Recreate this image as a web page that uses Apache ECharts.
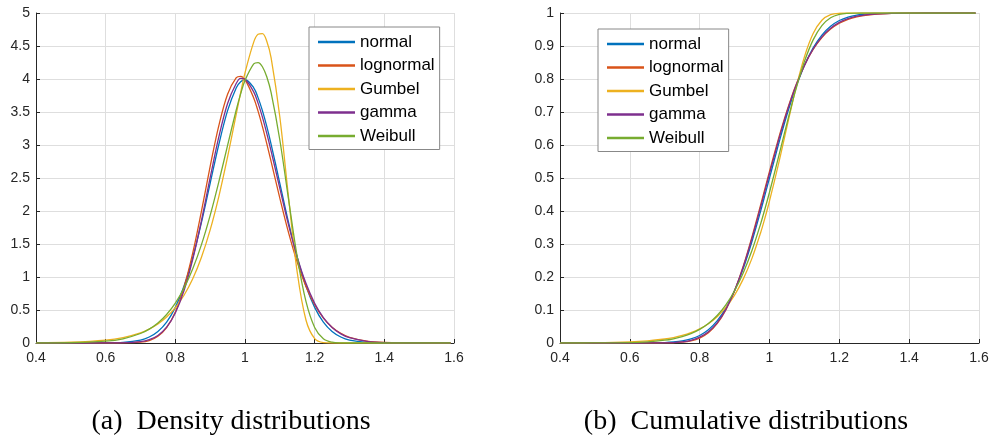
<!DOCTYPE html>
<html>
<head>
<meta charset="utf-8">
<title>Density and cumulative distributions</title>
<script src="https://cdn.jsdelivr.net/npm/echarts@6/dist/echarts.min.js"></script>
<style>
  html, body { margin: 0; padding: 0; background: #fff; }
  #chart { width: 998px; height: 444px; }
</style>
</head>
<body>
<div id="chart"></div>
<script>
const xs = [0.4, 0.5, 0.6, 0.65, 0.7, 0.725, 0.75, 0.775, 0.8, 0.825, 0.85, 0.875, 0.9, 0.925, 0.95, 0.975, 0.9875, 1.0,
  1.025, 1.0375, 1.05, 1.0625, 1.075, 1.1, 1.125, 1.15, 1.175, 1.2, 1.225, 1.25, 1.275, 1.3, 1.35, 1.4, 1.5, 1.59]

const seriesNames = ['normal', 'lognormal', 'Gumbel', 'gamma', 'Weibull']
const colors = ['#0072BD', '#D95319', '#EDB120', '#7E2F8E', '#77AC30']

// (a) density
const normalPdf = [0, 0, 0.0013, 0.0087, 0.044, 0.091, 0.175, 0.317, 0.540, 0.863, 1.295, 1.827, 2.420, 3.011, 3.521, 3.867, 3.958, 3.989,
  3.867, 3.718, 3.521, 3.282, 3.011, 2.420, 1.827, 1.295, 0.863, 0.540, 0.317, 0.175, 0.091, 0.044, 0.0087, 0.0013, 0, 0]
const lognormalPdf = [0, 0, 0, 0.0008, 0.012, 0.037, 0.102, 0.233, 0.469, 0.844, 1.364, 1.998, 2.676, 3.297, 3.770, 4.020, 4.040, 3.990,
  3.713, 3.513, 3.279, 3.021, 2.747, 2.195, 1.672, 1.221, 0.857, 0.580, 0.378, 0.240, 0.147, 0.087, 0.029, 0.009, 0.0005, 0]
const gumbelPdf = [0.0034, 0.012, 0.043, 0.082, 0.154, 0.211, 0.288, 0.393, 0.535, 0.724, 0.974, 1.300, 1.713, 2.222, 2.820, 3.470, 3.792, 4.094,
  4.559, 4.677, 4.688, 4.573, 4.320, 3.424, 2.207, 1.068, 0.349, 0.066, 0.006, 0, 0, 0, 0, 0, 0, 0]
const gammaPdf = [0, 0, 0.0004, 0.0033, 0.021, 0.051, 0.115, 0.239, 0.455, 0.794, 1.267, 1.855, 2.504, 3.126, 3.629, 3.935, 4.010, 3.995,
  3.805, 3.634, 3.422, 3.176, 2.908, 2.342, 1.790, 1.302, 0.904, 0.601, 0.383, 0.235, 0.139, 0.080, 0.025, 0.007, 0.0003, 0]
const weibullPdf = [0.0003, 0.0036, 0.027, 0.064, 0.144, 0.210, 0.303, 0.431, 0.603, 0.831, 1.124, 1.490, 1.934, 2.445, 2.995, 3.534, 3.774, 3.978,
  4.229, 4.249, 4.186, 4.033, 3.793, 3.076, 2.178, 1.300, 0.630, 0.236, 0.064, 0.012, 0.0013, 0, 0, 0, 0, 0]

// (b) cumulative
const normalCdf = [0, 0, 0.00003, 0.0002, 0.0013, 0.0030, 0.0062, 0.0122, 0.0228, 0.0401, 0.0668, 0.1056, 0.1587, 0.2266, 0.3085, 0.4013, 0.4503, 0.5,
  0.5987, 0.6462, 0.6915, 0.7340, 0.7734, 0.8413, 0.8944, 0.9332, 0.9599, 0.9772, 0.9878, 0.9938, 0.9970, 0.9987, 0.9998, 1, 1, 1]
const lognormalCdf = [0, 0, 0, 0, 0.0002, 0.0008, 0.0024, 0.0064, 0.0149, 0.0310, 0.0584, 0.1002, 0.1587, 0.2336, 0.3225, 0.4200, 0.4700, 0.5200,
  0.6164, 0.6616, 0.7041, 0.7434, 0.7795, 0.8412, 0.8895, 0.9254, 0.9512, 0.9691, 0.9809, 0.9885, 0.9932, 0.9962, 0.9989, 0.9997, 1, 1]
const gumbelCdf = [0.0003, 0.0010, 0.0034, 0.0064, 0.0121, 0.0166, 0.0228, 0.0313, 0.0428, 0.0584, 0.0796, 0.1078, 0.1452, 0.1943, 0.2572, 0.3357, 0.3811, 0.4304,
  0.5391, 0.5970, 0.6556, 0.7136, 0.7694, 0.8672, 0.9378, 0.9781, 0.9948, 0.9993, 1, 1, 1, 1, 1, 1, 1, 1]
const gammaCdf = [0, 0, 0.00001, 0.0001, 0.0006, 0.0014, 0.0034, 0.0077, 0.0176, 0.0340, 0.0611, 0.1019, 0.1585, 0.2310, 0.3175, 0.4135, 0.4632, 0.5132,
  0.6106, 0.6565, 0.6999, 0.7405, 0.7776, 0.8412, 0.8910, 0.9279, 0.9540, 0.9716, 0.9831, 0.9902, 0.9944, 0.9970, 0.9990, 0.9997, 1, 1]
const weibullCdf = [0, 0.0002, 0.0013, 0.0035, 0.0084, 0.0128, 0.0191, 0.0283, 0.0411, 0.0589, 0.0832, 0.1156, 0.1583, 0.2129, 0.2809, 0.3626, 0.4083, 0.4569,
  0.5600, 0.6130, 0.6658, 0.7173, 0.7663, 0.8528, 0.9186, 0.9618, 0.9854, 0.9957, 0.9991, 0.9999, 1, 1, 1, 1, 1, 1]

const xTicks = { min: 0.4, max: 1.6, interval: 0.2 }
const captions = ['(a)  Density distributions', '(b)  Cumulative distributions']

const pdfData = [normalPdf, lognormalPdf, gumbelPdf, gammaPdf, weibullPdf]
const cdfData = [normalCdf, lognormalCdf, gumbelCdf, gammaCdf, weibullCdf]

const axisColor = '#262626'
const sansFont = 'Liberation Sans, Arial, sans-serif'

function pairs (ys) {
  return xs.map(function (x, i) { return [x, ys[i]] })
}

function makeSeries (data, idx) {
  return data.map(function (ys, i) {
    return {
      name: seriesNames[i],
      type: 'line',
      xAxisIndex: idx,
      yAxisIndex: idx,
      symbol: 'none',
      smooth: 0.35,
      clip: true,
      lineStyle: { width: 1.3, color: colors[i] },
      itemStyle: { color: colors[i] },
      data: pairs(ys)
    }
  })
}

function xAxis (idx) {
  return {
    type: 'value',
    gridIndex: idx,
    min: xTicks.min,
    max: xTicks.max,
    interval: xTicks.interval,
    axisLine: { show: true, onZero: false, lineStyle: { color: axisColor, width: 1 } },
    axisTick: { show: true, inside: true, length: 4, lineStyle: { color: axisColor } },
    axisLabel: { color: axisColor, fontSize: 14, fontFamily: sansFont, margin: 8,
      formatter: function (v) { return String(Math.round(v * 10) / 10) } },
    splitLine: { show: true, lineStyle: { color: '#dedede', width: 1 } }
  }
}

function yAxis (idx, max, interval) {
  return {
    type: 'value',
    gridIndex: idx,
    min: 0,
    max: max,
    interval: interval,
    axisLine: { show: true, lineStyle: { color: axisColor, width: 1 } },
    axisTick: { show: true, inside: true, length: 4, lineStyle: { color: axisColor } },
    axisLabel: { color: axisColor, fontSize: 14, fontFamily: sansFont, margin: 6,
      formatter: function (v) { return String(Math.round(v * 10) / 10) } },
    splitLine: { show: true, lineStyle: { color: '#dedede', width: 1 } }
  }
}

// boxed vertical legend, plain line samples
function legend (seriesIdx, left, top) {
  return {
    data: seriesNames,
    seriesIndex: seriesIdx,
    orient: 'vertical',
    left: left,
    top: top,
    icon: 'rect',
    backgroundColor: '#fff',
    borderColor: '#888',
    borderWidth: 1,
    borderRadius: 0,
    padding: [6.5, 5, 5, 9],
    itemWidth: 37,
    itemHeight: 2.5,
    itemGap: 6.5,
    selectedMode: false,
    textStyle: { fontSize: 17, fontFamily: sansFont, color: '#000' }
  }
}

const chart = echarts.init(document.getElementById('chart'), null, { renderer: 'canvas' })

const pdfSeries = makeSeries(pdfData, 0)
const cdfSeries = makeSeries(cdfData, 1)

chart.setOption({
  animation: false,
  backgroundColor: '#fff',
  grid: [
    { left: 36, top: 13, width: 418, height: 330 },
    { left: 560, top: 13, width: 419, height: 330 }
  ],
  xAxis: [xAxis(0), xAxis(1)],
  yAxis: [yAxis(0, 5, 0.5), yAxis(1, 1, 0.1)],
  legend: [
    legend([0, 1, 2, 3, 4], 309, 27),
    legend([5, 6, 7, 8, 9], 598, 29)
  ],
  graphic: [
    { type: 'text', x: 231, y: 422, style: { text: captions[0], font: '28px "Liberation Serif", "Times New Roman", serif', fill: '#000', textAlign: 'center', textVerticalAlign: 'middle' } },
    { type: 'text', x: 746, y: 422, style: { text: captions[1], font: '28px "Liberation Serif", "Times New Roman", serif', fill: '#000', textAlign: 'center', textVerticalAlign: 'middle' } }
  ],
  series: pdfSeries.concat(cdfSeries)
})
</script>
</body>
</html>
